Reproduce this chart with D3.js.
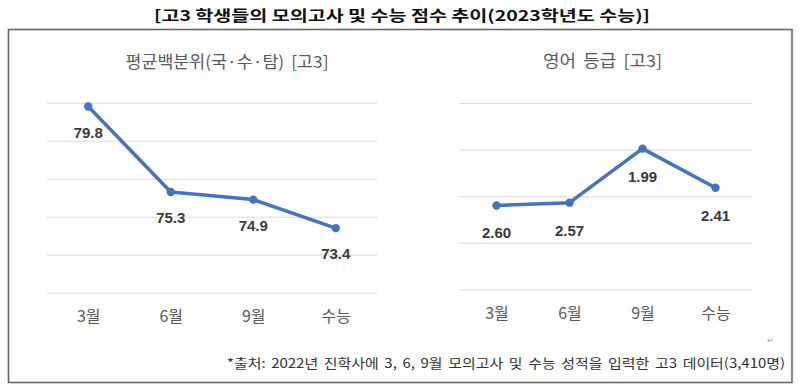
<!DOCTYPE html>
<html><head><meta charset="utf-8">
<script src="https://cdn.jsdelivr.net/npm/d3@7"></script>
<style>body{margin:0;background:#fff;} svg{display:block;font-family:"Noto Sans CJK KR","Noto Sans",sans-serif;}</style>
</head><body><svg id="c" width="800" height="391"></svg>
<script>
const categories = ["3월","6월","9월","수능"];
const percentileValues = [79.8, 75.3, 74.9, 73.4];
const percentileLabels = ["79.8","75.3","74.9","73.4"];
const percentileTicks = [70,72,74,76,78,80];
const englishValues = [2.60, 2.57, 1.99, 2.41];
const englishLabels = ["2.60","2.57","1.99","2.41"];
const englishTicks = [1.5,2.0,2.5,3.0,3.5];
const mainTitle = "[고3 학생들의 모의고사 및 수능 점수 추이(2023학년도 수능)]";
const leftTitle = "평균백분위(국·수·탐) [고3]";
const rightTitle = "영어 등급 [고3]";
const footnote = "*출처: 2022년 진학사에 3, 6, 9월 모의고사 및 수능 성적을 입력한 고3 데이터(3,410명)";

const svg = d3.select("#c");
svg.append("text").attr("x",402).attr("y",21).attr("text-anchor","middle")
  .attr("font-size",15).attr("font-weight","bold").attr("fill","#111")
  .attr("textLength",496).attr("lengthAdjust","spacingAndGlyphs").text(mainTitle);
svg.append("rect").attr("x",8.5).attr("y",29.5).attr("width",783.5).attr("height",353)
  .attr("fill","none").attr("stroke","#666").attr("stroke-width",1.6);

function drawChart(cfg){
  const g = svg.append("g");
  const x = d3.scalePoint().domain(categories).range([cfg.x0,cfg.x1]).padding(0.5);
  const y = d3.scaleLinear().domain(cfg.domain).range([cfg.yTop,cfg.yBot]);
  g.append("text").attr("x",cfg.titleX).attr("y",cfg.titleY).attr("text-anchor","middle")
    .attr("font-size",16.5).attr("fill","#595959").attr("word-spacing",3)
    .attr("textLength",cfg.titleW).attr("lengthAdjust","spacingAndGlyphs").text(cfg.title);
  const grid = g.append("g").attr("transform",`translate(${cfg.x0},0)`)
    .call(d3.axisLeft(y).tickValues(cfg.ticks).tickSize(-(cfg.x1-cfg.x0)).tickFormat(""));
  grid.select(".domain").remove();
  grid.selectAll(".tick line").attr("stroke","#d9d9d9").attr("stroke-width",1);
  const xa = g.append("g").attr("transform",`translate(0,${cfg.yBot})`)
    .call(d3.axisBottom(x).tickSize(0).tickPadding(18));
  xa.select(".domain").remove();
  xa.selectAll("text").attr("font-size",16).attr("fill","#595959")
    .attr("font-family",'"Noto Sans CJK KR",sans-serif');
  const line = d3.line().x((d,i)=>x(categories[i])).y(d=>y(d));
  g.append("path").datum(cfg.values).attr("d",line).attr("fill","none")
    .attr("stroke","#4472C4").attr("stroke-width",3.5).attr("stroke-linejoin","round");
  g.selectAll("circle").data(cfg.values).join("circle")
    .attr("cx",(d,i)=>x(categories[i])).attr("cy",d=>y(d)).attr("r",4.2).attr("fill","#4472C4");
  g.selectAll("text.lbl").data(cfg.values).join("text").attr("class","lbl")
    .attr("x",(d,i)=>x(categories[i])).attr("y",d=>y(d)+cfg.lblOff)
    .attr("text-anchor","middle").attr("font-size",15).attr("font-weight","bold")
    .attr("fill","#3a3a3a").attr("font-family",'"Liberation Sans","Noto Sans",sans-serif')
    .text((d,i)=>cfg.labels[i]);
}
drawChart({x0:47,x1:377,yTop:102.7,yBot:292.7,domain:[80,70],ticks:percentileTicks,
  values:percentileValues,labels:percentileLabels,title:leftTitle,titleX:227,titleW:203,titleY:68,lblOff:31});
drawChart({x0:460,x1:752,yTop:103,yBot:289.3,domain:[1.5,3.5],ticks:englishTicks,
  values:englishValues,labels:englishLabels,title:rightTitle,titleX:602.5,titleW:119,titleY:67,lblOff:33});

svg.append("text").attr("x",770).attr("y",343).attr("text-anchor","middle")
  .attr("font-size",8).attr("fill","#999").text("↵");
svg.append("text").attr("x",785).attr("y",368).attr("text-anchor","end")
  .attr("font-size",13).attr("fill","#333").attr("word-spacing",2)
  .attr("textLength",558).attr("lengthAdjust","spacingAndGlyphs").text(footnote);
</script></body></html>
